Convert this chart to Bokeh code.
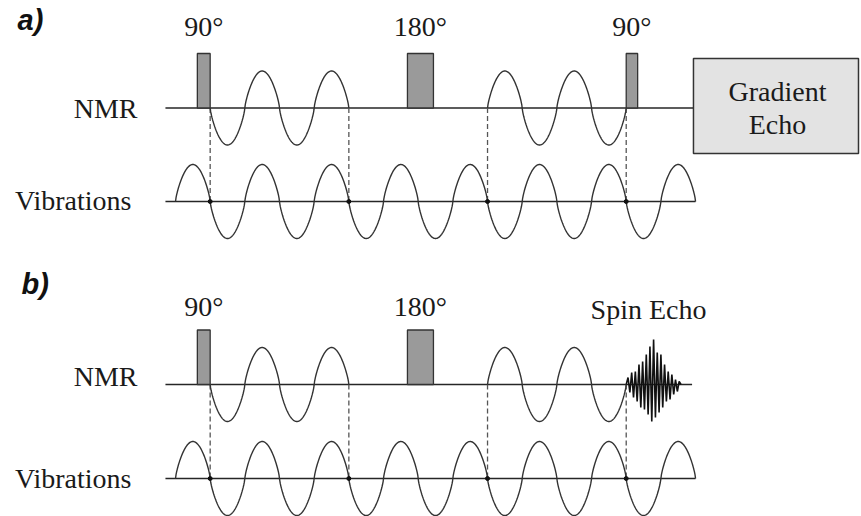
import numpy as np
from bokeh.plotting import figure
from bokeh.models import Range1d
from bokeh.core.properties import value
from bokeh.embed import file_html
from bokeh.resources import INLINE

# ---------------- data (time in half-periods of the vibration) ----------------
panel_labels = ["a)", "b)"]
row_labels = ["NMR", "Vibrations"]

pulse_labels_a = ["90°", "180°", "90°"]
pulse_start_a = [0.63, 6.69, 13.0]
pulse_end_a = [1.0, 7.44, 13.33]

pulse_labels_b = ["90°", "180°"]
pulse_start_b = [0.63, 6.69]
pulse_end_b = [1.0, 7.44]

# NMR precession segments: start, end, first lobe (+1 = downwards)
nmr_seg_start = [1, 9]
nmr_seg_end = [5, 13]
nmr_seg_dir = [1, -1]

vib_start, vib_end = 0, 15
dash_times = [1, 5, 9, 13]

nmr_line_start, nmr_line_end_a, nmr_line_end_b = -0.29, 14.94, 14.9
vib_line_start, vib_line_end = -0.29, 15.0

box_start, box_end = 14.94, 19.70
box_text = ["Gradient", "Echo"]

echo_label = "Spin Echo"
echo_start, echo_end = 13.0, 14.58
echo_amps = [7, -8, 12, -13, 13, -17, 20, -23, 23, -25, 30, -30, 38, -37, 45,
             -33, 32, -28, 30, -23, 20, -17, 13, -15, 10, -10, 5, -7, 3]

# ---------------- layout (pixels of the picture) ----------------
T0_PX, HALF_PX = 175.0, 34.67
W, H = 861, 516
TXT_DY = -9  # text baseline correction


def tx(px):
    return (px - T0_PX) / HALF_PX


def lobe(s):
    # rounded lobe shape of the drawn waves
    return np.sign(s) * np.abs(s) ** 0.75


AMP = 37.0
PULSE_H = 54.5
panels = [
    dict(nmr=107.5, vib=201.0, lab=(17, 28), plab=35, nmr_lab=117, vib_lab=209),
    dict(nmr=384.0, vib=478.0, lab=(21, 292), plab=315, nmr_lab=385, vib_lab=487),
]

LINE = "#262626"
WAVE = "#333333"
SERIF = value("Liberation Serif")
FS = value("28px")

p = figure(width=W, height=H, x_range=Range1d(tx(0), tx(W)),
           y_range=Range1d(H, 0), output_backend="svg", toolbar_location=None,
           x_axis_location=None, y_axis_location=None, min_border=0)
p.grid.visible = False
p.outline_line_color = None
p.background_fill_color = "white"
p.border_fill_color = "white"

for i, pan in enumerate(panels):
    nb, vb = pan["nmr"], pan["vib"]
    # panel label
    p.text(x=[tx(pan["lab"][0])], y=[pan["lab"][1] + TXT_DY], text=[panel_labels[i]],
           text_font=value("Liberation Sans"), text_font_style="bold italic",
           text_font_size=value("29px"), text_align="left", text_baseline="alphabetic",
           text_color="#111111")
    # row labels
    p.text(x=[tx(137), tx(131)], y=[pan["nmr_lab"] + TXT_DY, pan["vib_lab"] + TXT_DY],
           text=row_labels, text_font=SERIF, text_font_size=FS, text_align="right",
           text_baseline="alphabetic", text_color="#1a1a1a")

    # baselines
    nmr_end = nmr_line_end_a if i == 0 else nmr_line_end_b
    p.segment(x0=[nmr_line_start, vib_line_start], y0=[nb, vb],
              x1=[nmr_end, vib_line_end], y1=[nb, vb], line_color=LINE, line_width=1.6)

    # dashed connectors
    p.segment(x0=dash_times, y0=[nb] * len(dash_times), x1=dash_times,
              y1=[vb] * len(dash_times), line_color="#555555", line_width=1.3,
              line_dash="5 3")

    # vibration wave
    t = np.linspace(vib_start, vib_end, 900)
    p.line(t, vb - AMP * lobe(np.sin(np.pi * (t - vib_start))), line_color=WAVE,
           line_width=1.4)
    p.scatter(dash_times, [vb] * len(dash_times), size=4, color="#111111")

    # NMR segments
    for s, e, d in zip(nmr_seg_start, nmr_seg_end, nmr_seg_dir):
        ts = np.linspace(s, e, 300)
        p.line(ts, nb + d * AMP * lobe(np.sin(np.pi * (ts - s))), line_color=WAVE,
               line_width=1.4)

    # pulses
    ps = pulse_start_a if i == 0 else pulse_start_b
    pe = pulse_end_a if i == 0 else pulse_end_b
    pl = pulse_labels_a if i == 0 else pulse_labels_b
    p.quad(left=ps, right=pe, bottom=[nb] * len(ps), top=[nb - PULSE_H] * len(ps),
           fill_color="#9a9a9a", line_color="#333333", line_width=1.3)
    p.text(x=[(a + b) / 2 for a, b in zip(ps, pe)], y=[pan["plab"] + TXT_DY] * len(ps),
           text=pl, text_font=SERIF, text_font_size=FS, text_align="center",
           text_baseline="alphabetic", text_color="#1a1a1a")

    if i == 0:
        # gradient echo box
        p.quad(left=[box_start], right=[box_end], top=[58], bottom=[153],
               fill_color="#e3e3e3", line_color="#333333", line_width=1.5)
        p.text(x=[tx(777)] * 2, y=[100 + TXT_DY, 133 + TXT_DY], text=box_text,
               text_font=SERIF, text_font_size=FS, text_align="center",
               text_baseline="alphabetic", text_color="#1a1a1a")
    else:
        # spin echo burst
        n = len(echo_amps)
        xe = np.linspace(echo_start, echo_end, n + 2)
        ye = [nb] + [nb - a for a in echo_amps] + [nb]
        p.line(xe, ye, line_color="#111111", line_width=1.6)
        p.text(x=[tx(648)], y=[318 + TXT_DY], text=[echo_label], text_font=SERIF,
               text_font_size=FS, text_align="center", text_baseline="alphabetic",
               text_color="#1a1a1a")

open("out.html", "w").write(file_html(p, INLINE))
